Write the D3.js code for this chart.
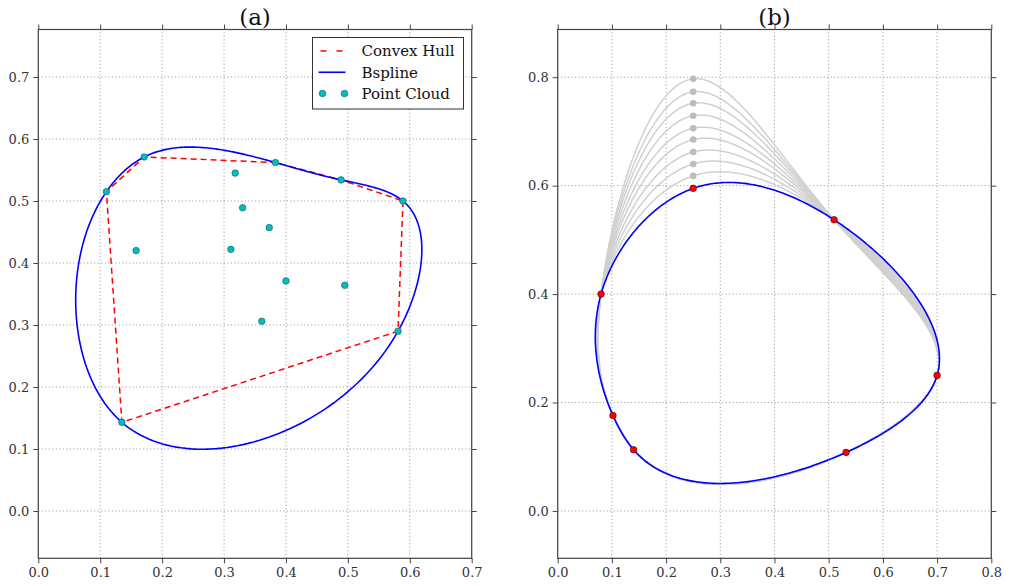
<!DOCTYPE html>
<html>
<head>
<meta charset="utf-8">
<script src="https://cdn.jsdelivr.net/npm/d3@7"></script>
<style>
  body { margin: 0; background: #fff; }
  svg { display: block; font-family: "DejaVu Serif", serif; }
</style>
</head>
<body>
<div id="viz"></div>
<script>
"use strict";
(function(){
  // panel (a)
  let pointCloud = [
    [0.110,0.515],[0.171,0.571],[0.383,0.562],[0.489,0.534],[0.589,0.500],
    [0.318,0.545],[0.330,0.489],[0.373,0.457],[0.158,0.420],[0.311,0.422],
    [0.400,0.371],[0.495,0.364],[0.361,0.306],[0.581,0.290],[0.135,0.143]
  ]
  let ticksA_x = [0.0,0.1,0.2,0.3,0.4,0.5,0.6,0.7]
  let ticksA_y = [0.0,0.1,0.2,0.3,0.4,0.5,0.6,0.7]
  let legendNames = ['Convex Hull', 'Bspline', 'Point Cloud']

  // panel (b)
  let redPoints = [
    [0.080,0.400],[0.250,0.595],[0.510,0.537],[0.700,0.250],
    [0.532,0.108],[0.140,0.113],[0.102,0.176]
  ]
  let greyY = [0.618,0.640,0.662,0.685,0.706,0.729,0.752,0.773,0.797]
  let ticksB_x = [0.0,0.1,0.2,0.3,0.4,0.5,0.6,0.7,0.8]
  let ticksB_y = [0.0,0.2,0.4,0.6,0.8]

  let m = { width: 1011, height: 586 }

  const svg = d3.select('#viz').append('svg')
      .attr('width', m.width)
      .attr('height', m.height)

  // periodic cubic spline through closed points, chord length parameters
  function closedSpline(pts, steps) {
    let n = pts.length
    let h = pts.map((p, i) => {
      let q = pts[(i+1)%n]
      return Math.hypot(q[0]-p[0], q[1]-p[1])
    })
    let solve = function(dim) {
      let A = [], b = []
      for (let i = 0; i < n; i++) {
        let row = new Array(n).fill(0)
        let hp = h[(i-1+n)%n], hc = h[i]
        row[(i-1+n)%n] += hp
        row[i] += 2*(hp+hc)
        row[(i+1)%n] += hc
        A.push(row)
        let p0 = pts[(i-1+n)%n][dim], p1 = pts[i][dim], p2 = pts[(i+1)%n][dim]
        b.push(6*((p2-p1)/hc - (p1-p0)/hp))
      }
      for (let c = 0; c < n; c++) {
        let piv = c
        for (let r = c+1; r < n; r++) if (Math.abs(A[r][c]) > Math.abs(A[piv][c])) piv = r;
        [A[c], A[piv]] = [A[piv], A[c]];
        [b[c], b[piv]] = [b[piv], b[c]];
        for (let r = c+1; r < n; r++) {
          let f = A[r][c]/A[c][c]
          for (let k = c; k < n; k++) A[r][k] -= f*A[c][k]
          b[r] -= f*b[c]
        }
      }
      let M = new Array(n).fill(0)
      for (let r = n-1; r >= 0; r--) {
        let s = b[r]
        for (let k = r+1; k < n; k++) s -= A[r][k]*M[k]
        M[r] = s/A[r][r]
      }
      return M
    }
    let Mx = solve(0), My = solve(1)
    let out = []
    for (let i = 0; i < n; i++) {
      let j = (i+1)%n, hh = h[i]
      for (let s = 0; s < steps; s++) {
        let t = hh*s/steps
        let f = (P0, P1, M0, M1) =>
          M0*Math.pow(hh-t,3)/(6*hh) + M1*Math.pow(t,3)/(6*hh) +
          (P0/hh - M0*hh/6)*(hh-t) + (P1/hh - M1*hh/6)*t
        out.push([f(pts[i][0], pts[j][0], Mx[i], Mx[j]), f(pts[i][1], pts[j][1], My[i], My[j])])
      }
    }
    out.push(out[0])
    return out
  }

  function drawAxes(x, y, tx, ty, fmt, title, id) {
    let g = svg.append('g')
    let [x0, x1] = x.range(), [y0, y1] = y.range()
    g.append('defs').append('clipPath').attr('id', id)
      .append('rect').attr('x', x0).attr('y', y1).attr('width', x1-x0).attr('height', y0-y1)
    // grid
    g.selectAll('.gx').data(tx).enter().append('line')
        .attr('x1', d=>x(d)).attr('x2', d=>x(d)).attr('y1', y0).attr('y2', y1)
        .attr('stroke', '#777').attr('stroke-width', 0.8).attr('stroke-dasharray', '1,2.5')
    g.selectAll('.gy').data(ty).enter().append('line')
        .attr('y1', d=>y(d)).attr('y2', d=>y(d)).attr('x1', x0).attr('x2', x1)
        .attr('stroke', '#777').attr('stroke-width', 0.8).attr('stroke-dasharray', '1,2.5')
    let axes = [
      [d3.axisBottom(x).tickValues(tx).tickFormat(fmt), 'translate(0,'+y0+')'],
      [d3.axisTop(x).tickValues(tx).tickFormat(''), 'translate(0,'+y1+')'],
      [d3.axisLeft(y).tickValues(ty).tickFormat(fmt), 'translate('+x0+',0)'],
      [d3.axisRight(y).tickValues(ty).tickFormat(''), 'translate('+x1+',0)']
    ]
    let frame = svg.append('g')
    axes.forEach(function(a){
      let ax = frame.append('g')
        .attr('transform', a[1])
        .call(a[0].tickSize(5).tickSizeOuter(0).tickPadding(4))
      ax.select('.domain').remove()
      ax.selectAll('line').attr('stroke', '#444')
      ax.selectAll('text')
        .attr('fill', '#333')
        .style('font-family', '"DejaVu Serif", serif')
        .style('font-size', '13px')
    })
    frame.append('rect')
        .attr('x', x0).attr('y', y1).attr('width', x1-x0).attr('height', y0-y1)
        .attr('fill', 'none').attr('stroke', '#444').attr('stroke-width', 1.2)
    svg.append('text')
        .attr('x', (x0+x1)/2).attr('y', 25)
        .attr('text-anchor', 'middle')
        .attr('font-size', '23px')
        .attr('fill', '#111')
        .text(title)
    let plot = svg.insert('g', function(){ return frame.node() }).attr('clip-path', 'url(#'+id+')')
    return plot
  }

  let fmt = d3.format('.1f')

  // (a)
  let xA = d3.scaleLinear().domain([0, 0.7]).range([38.3, 471.7])
  let yA = d3.scaleLinear().domain([-0.0763, 0.7766]).range([558.3, 29.5])
  let pa = drawAxes(xA, yA, ticksA_x, ticksA_y, fmt, '(a)', 'clipA')
  let hull = d3.polygonHull(pointCloud)
  let lineA = d3.line().x(d=>xA(d[0])).y(d=>yA(d[1]))
  pa.append('path')
      .datum(hull.concat([hull[0]]))
      .attr('d', lineA)
      .attr('fill', 'none')
      .attr('stroke', 'red')
      .attr('stroke-width', 1.5)
      .attr('stroke-dasharray', '6,4')
  pa.append('path')
      .datum(closedSpline(hull, 60))
      .attr('d', lineA)
      .attr('fill', 'none')
      .attr('stroke', 'blue')
      .attr('stroke-width', 1.6)
  pa.selectAll('.cloud')
      .data(pointCloud)
      .enter()
      .append('circle')
        .attr('cx', d=>xA(d[0]))
        .attr('cy', d=>yA(d[1]))
        .attr('r', 3.3)
        .attr('fill', '#00bfbf')
        .attr('stroke', '#225555')
        .attr('stroke-width', 0.6)

  // legend
  let lg = svg.append('g').attr('transform', 'translate(312.5,37.5)')
  lg.append('rect')
      .attr('width', 151).attr('height', 71.5)
      .attr('fill', '#fff').attr('stroke', '#333').attr('stroke-width', 1)
  let rowY = d3.scalePoint().domain(legendNames).range([13.5, 56]).padding(0)
  legendNames.forEach(function(name, i){
    let yy = rowY(name)
    if (i == 0) {
      lg.append('line').attr('x1', 6).attr('x2', 33).attr('y1', yy).attr('y2', yy)
        .attr('stroke', 'red').attr('stroke-width', 1.5).attr('stroke-dasharray', '6,10')
        .attr('stroke-dashoffset', -2)
    } else if (i == 1) {
      lg.append('line').attr('x1', 6).attr('x2', 33).attr('y1', yy).attr('y2', yy)
        .attr('stroke', 'blue').attr('stroke-width', 1.6)
    } else {
      [10, 32].forEach(cx => lg.append('circle').attr('cx', cx).attr('cy', yy).attr('r', 3.3)
        .attr('fill', '#00bfbf').attr('stroke', '#225555').attr('stroke-width', 0.6))
    }
    lg.append('text')
      .attr('x', 49).attr('y', yy).attr('dy', '0.35em')
      .attr('font-size', '15px').attr('fill', '#111')
      .text(name)
  })

  // (b)
  let xB = d3.scaleLinear().domain([0, 0.8]).range([557.7, 991.3])
  let yB = d3.scaleLinear().domain([-0.0873, 0.888]).range([558.3, 29.5])
  let pb = drawAxes(xB, yB, ticksB_x, ticksB_y, fmt, '(b)', 'clipB')
  let lineB = d3.line().x(d=>xB(d[0])).y(d=>yB(d[1]))
  greyY.forEach(function(gy){
    let pts = redPoints.map((p, i) => i == 1 ? [p[0], gy] : p)
    pb.append('path')
        .datum(closedSpline(pts, 80))
        .attr('d', lineB)
        .attr('fill', 'none')
        .attr('stroke', '#d0d0d0')
        .attr('stroke-width', 1.5)
  })
  pb.selectAll('.grey')
      .data(greyY)
      .enter()
      .append('circle')
        .attr('cx', xB(redPoints[1][0]))
        .attr('cy', d=>yB(d))
        .attr('r', 3.3)
        .attr('fill', '#bdbdbd')
  pb.append('path')
      .datum(closedSpline(redPoints, 80))
      .attr('d', lineB)
      .attr('fill', 'none')
      .attr('stroke', 'blue')
      .attr('stroke-width', 1.6)
  pb.selectAll('.red')
      .data(redPoints)
      .enter()
      .append('circle')
        .attr('cx', d=>xB(d[0]))
        .attr('cy', d=>yB(d[1]))
        .attr('r', 3.3)
        .attr('fill', 'red')
        .attr('stroke', '#400')
        .attr('stroke-width', 0.6)
})();
</script>
</body>
</html>
